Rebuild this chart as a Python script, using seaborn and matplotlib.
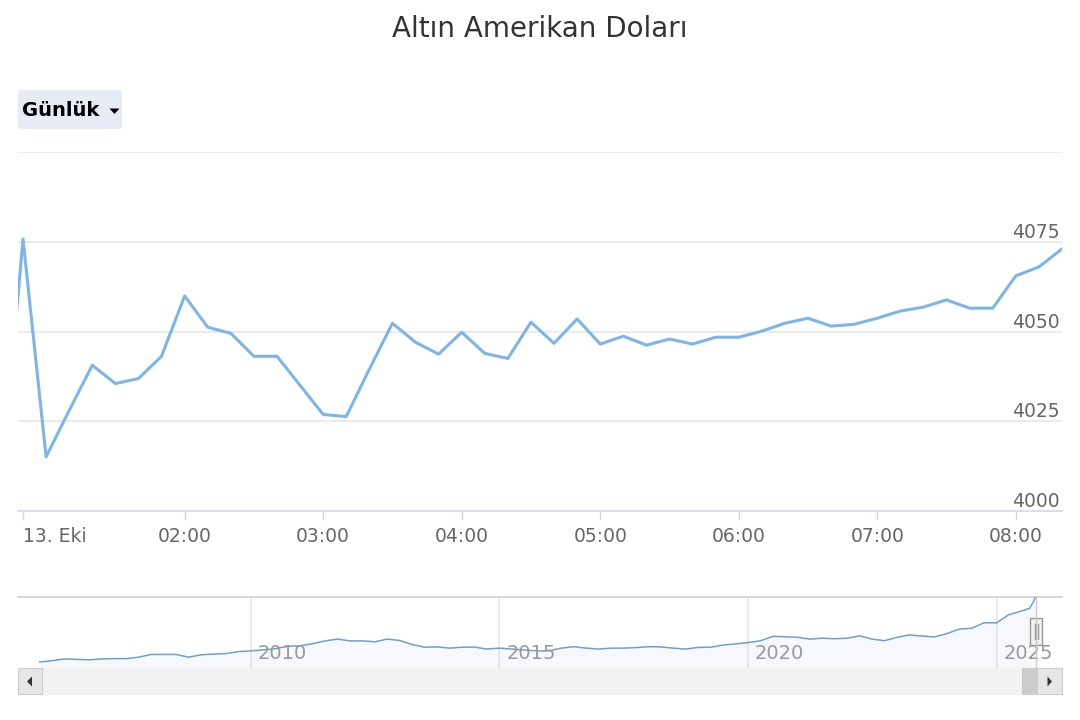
import matplotlib
matplotlib.use("Agg")
import matplotlib.pyplot as plt
import matplotlib.dates as mdates
import matplotlib.transforms as mtrans
from matplotlib.patches import Rectangle, Polygon, FancyBboxPatch
import seaborn as sns
import pandas as pd

# ---------------- data ----------------
title = "Altın Amerikan Doları"
button_label = "Günlük"

intraday_start = "2025-10-13 00:40"
intraday_values = [4002.0, 4075.8, 4015.1, 4028.0, 4040.6, 4035.5, 4036.9, 4043.1,
                   4059.9, 4051.2, 4049.5, 4043.1, 4043.1, 4035.0, 4026.9, 4026.3,
                   4039.5, 4052.3, 4047.0, 4043.7, 4049.8, 4043.9, 4042.5, 4052.6,
                   4046.7, 4053.5, 4046.5, 4048.7, 4046.2, 4047.9, 4046.5, 4048.4,
                   4048.4, 4050.1, 4052.3, 4053.7, 4051.5, 4052.0, 4053.7, 4055.7,
                   4056.8, 4058.8, 4056.5, 4056.5, 4065.5, 4068.0, 4073.0]

x_tick_times = ["2025-10-13 00:50", "2025-10-13 02:00", "2025-10-13 03:00",
                "2025-10-13 04:00", "2025-10-13 05:00", "2025-10-13 06:00",
                "2025-10-13 07:00", "2025-10-13 08:00"]
x_tick_labels = ["13. Eki", "02:00", "03:00", "04:00", "05:00", "06:00", "07:00", "08:00"]
y_grid = [4025, 4050, 4075, 4100]
y_labels = [4000, 4025, 4050, 4075]

# long-term navigator series (quarterly, from 2005-10)
nav_quarter_values = [480, 550, 650, 630, 600, 650, 670, 670, 750, 900, 900, 900, 750,
                      880, 920, 950, 1050, 1100, 1150, 1220, 1350, 1380, 1500, 1650,
                      1750, 1650, 1650, 1600, 1750, 1670, 1450, 1300, 1320, 1250, 1300,
                      1310, 1200, 1250, 1200, 1150, 1100, 1100, 1250, 1330, 1250, 1200,
                      1250, 1250, 1280, 1330, 1320, 1250, 1200, 1290, 1300, 1420, 1480,
                      1560, 1650, 1900, 1880, 1850, 1750, 1800, 1770, 1800, 1930, 1750,
                      1660, 1850, 1980, 1920, 1870, 2050, 2300, 2350, 2650, 2650, 3100,
                      3300]
nav_tail_dates = ["2025-09-01", "2025-10-01", "2025-10-13"]
nav_tail_values = [3450, 3850, 4075]
nav_years = [2010, 2015, 2020, 2025]

# ---------------- style ----------------
sns.set_theme(style="white")
plt.rcParams["font.family"] = ["DejaVu Sans"]

LINE = "#7cb5ec"
GRID = "#e6e6e6"
AXIS = "#ccd6eb"
LABEL = "#666666"

W, H = 1080, 720
fig = plt.figure(figsize=(W / 100, H / 100), dpi=100)
fig.patch.set_facecolor("white")


def px_axes(l, t, r, b):
    return fig.add_axes([l / W, 1 - b / H, (r - l) / W, (b - t) / H])


# ---------------- main chart ----------------
df = pd.DataFrame({
    "time": pd.date_range(intraday_start, periods=len(intraday_values), freq="10min"),
    "value": intraday_values,
})
ax = px_axes(18, 152, 1062, 511)
sns.lineplot(data=df, x="time", y="value", ax=ax, color=LINE, linewidth=2.2,
             solid_joinstyle="round", solid_capstyle="round", zorder=5)
ax.set_xlim(pd.Timestamp("2025-10-13 00:47:50"), pd.Timestamp("2025-10-13 08:20"))
ax.set_ylim(4000, 4100)
ax.set_xlabel("")
ax.set_ylabel("")
for v in y_grid:
    ax.axhline(v, color=GRID, lw=1.1, zorder=1)
for s in ["left", "right", "top"]:
    ax.spines[s].set_visible(False)
ax.spines["bottom"].set_color(AXIS)
ax.spines["bottom"].set_linewidth(1.1)
ax.set_yticks([])
ax.set_xticks([pd.Timestamp(t) for t in x_tick_times])
ax.set_xticklabels(x_tick_labels)
ax.tick_params(axis="x", bottom=True, length=6.5, width=1, color=AXIS,
               labelsize=13.5, labelcolor=LABEL, pad=5)
for lab in ax.get_xticklabels():
    lab.set_ha("center")
ax.get_xticklabels()[0].set_ha("left")
off = mtrans.offset_copy(ax.get_yaxis_transform(), fig=fig, x=-2, y=4, units="dots")
for v in y_labels:
    ax.text(1.0, v, str(v), transform=off, ha="right", va="baseline",
            fontsize=13.5, color=LABEL, zorder=6)

# ---------------- navigator ----------------
nav_dates = list(pd.date_range("2005-10-01", periods=len(nav_quarter_values), freq="QS")) + \
    [pd.Timestamp(d) for d in nav_tail_dates]
ndf = pd.DataFrame({"date": nav_dates, "value": nav_quarter_values + nav_tail_values})
nav = px_axes(18, 597, 1062, 668)
nav.set_xlim(pd.Timestamp("2005-04-27"), pd.Timestamp("2026-04-27"))
nav.set_ylim(150, 4080)
nav.fill_between(ndf["date"], ndf["value"], 150, color="#335cad", alpha=0.04, lw=0, zorder=2)
sns.lineplot(data=ndf, x="date", y="value", ax=nav, color="#6f9fd0", linewidth=1.1, zorder=3)
nav.set_xlabel("")
nav.set_ylabel("")
nav.set_xticks([])
nav.set_yticks([])
for s in ["left", "right", "bottom"]:
    nav.spines[s].set_visible(False)
nav.spines["top"].set_color("#cccccc")
nav.spines["top"].set_linewidth(1.1)
yoff = mtrans.offset_copy(nav.get_xaxis_transform(), fig=fig, x=7, y=0, units="dots")
for yr in nav_years:
    d = pd.Timestamp(f"{yr}-01-01")
    nav.axvline(d, color=GRID, lw=1.1, zorder=1)
    nav.text(d, 0.2, str(yr), transform=yoff, ha="left", va="center",
             fontsize=14, color="#999999", zorder=4)
nav.patch.set_alpha(0)

# ---------------- overlay decorations (pixel coordinates) ----------------
ov = fig.add_axes([0, 0, 1, 1], zorder=10)
ov.set_xlim(0, W)
ov.set_ylim(H, 0)
ov.axis("off")
ov.patch.set_alpha(0)

fig.text(0.5, 1 - 29 / H, title, ha="center", va="center", fontsize=20, color="#333333")

# range selector button
ov.add_patch(FancyBboxPatch((18, 90), 104, 39, boxstyle="round,pad=0,rounding_size=3",
                            fc="#e6ebf5", ec="none"))
ov.text(22, 110.5, button_label, ha="left", va="center", fontsize=14, fontweight="bold",
        color="#000000")
ov.add_patch(Polygon([(109.5, 108.5), (119.5, 108.5), (114.5, 114)], closed=True,
                     fc="#000000", ec="none"))

# scrollbar
ov.add_patch(Rectangle((18, 668), 1044, 26, fc="#f2f2f2", ec="#f2f2f2", lw=0.8))
ov.add_patch(Rectangle((1022, 668), 15, 26, fc="#cccccc", ec="#cccccc", lw=0.8))
ov.add_patch(Rectangle((17.5, 668), 24.5, 26, fc="#e6e6e6", ec="#cccccc", lw=0.8))
ov.add_patch(Rectangle((1037, 668), 24.5, 26, fc="#e6e6e6", ec="#cccccc", lw=0.8))
ov.add_patch(Polygon([(27, 681.5), (32, 676.5), (32, 686.5)], closed=True, fc="#333333", ec="none"))
ov.add_patch(Polygon([(1052, 681.5), (1047.5, 676.5), (1047.5, 686.5)], closed=True,
                     fc="#333333", ec="none"))

# navigator handle
ov.plot([1036, 1036], [597, 668], color="#cccccc", lw=1)
ov.add_patch(Rectangle((1030, 618), 12, 27, fc="#f2f2f2", ec="#999999", lw=1))
ov.plot([1034.5, 1034.5], [624, 639], color="#999999", lw=1)
ov.plot([1037.5, 1037.5], [624, 639], color="#999999", lw=1)

fig.savefig("out.png", dpi=100, facecolor="white")
